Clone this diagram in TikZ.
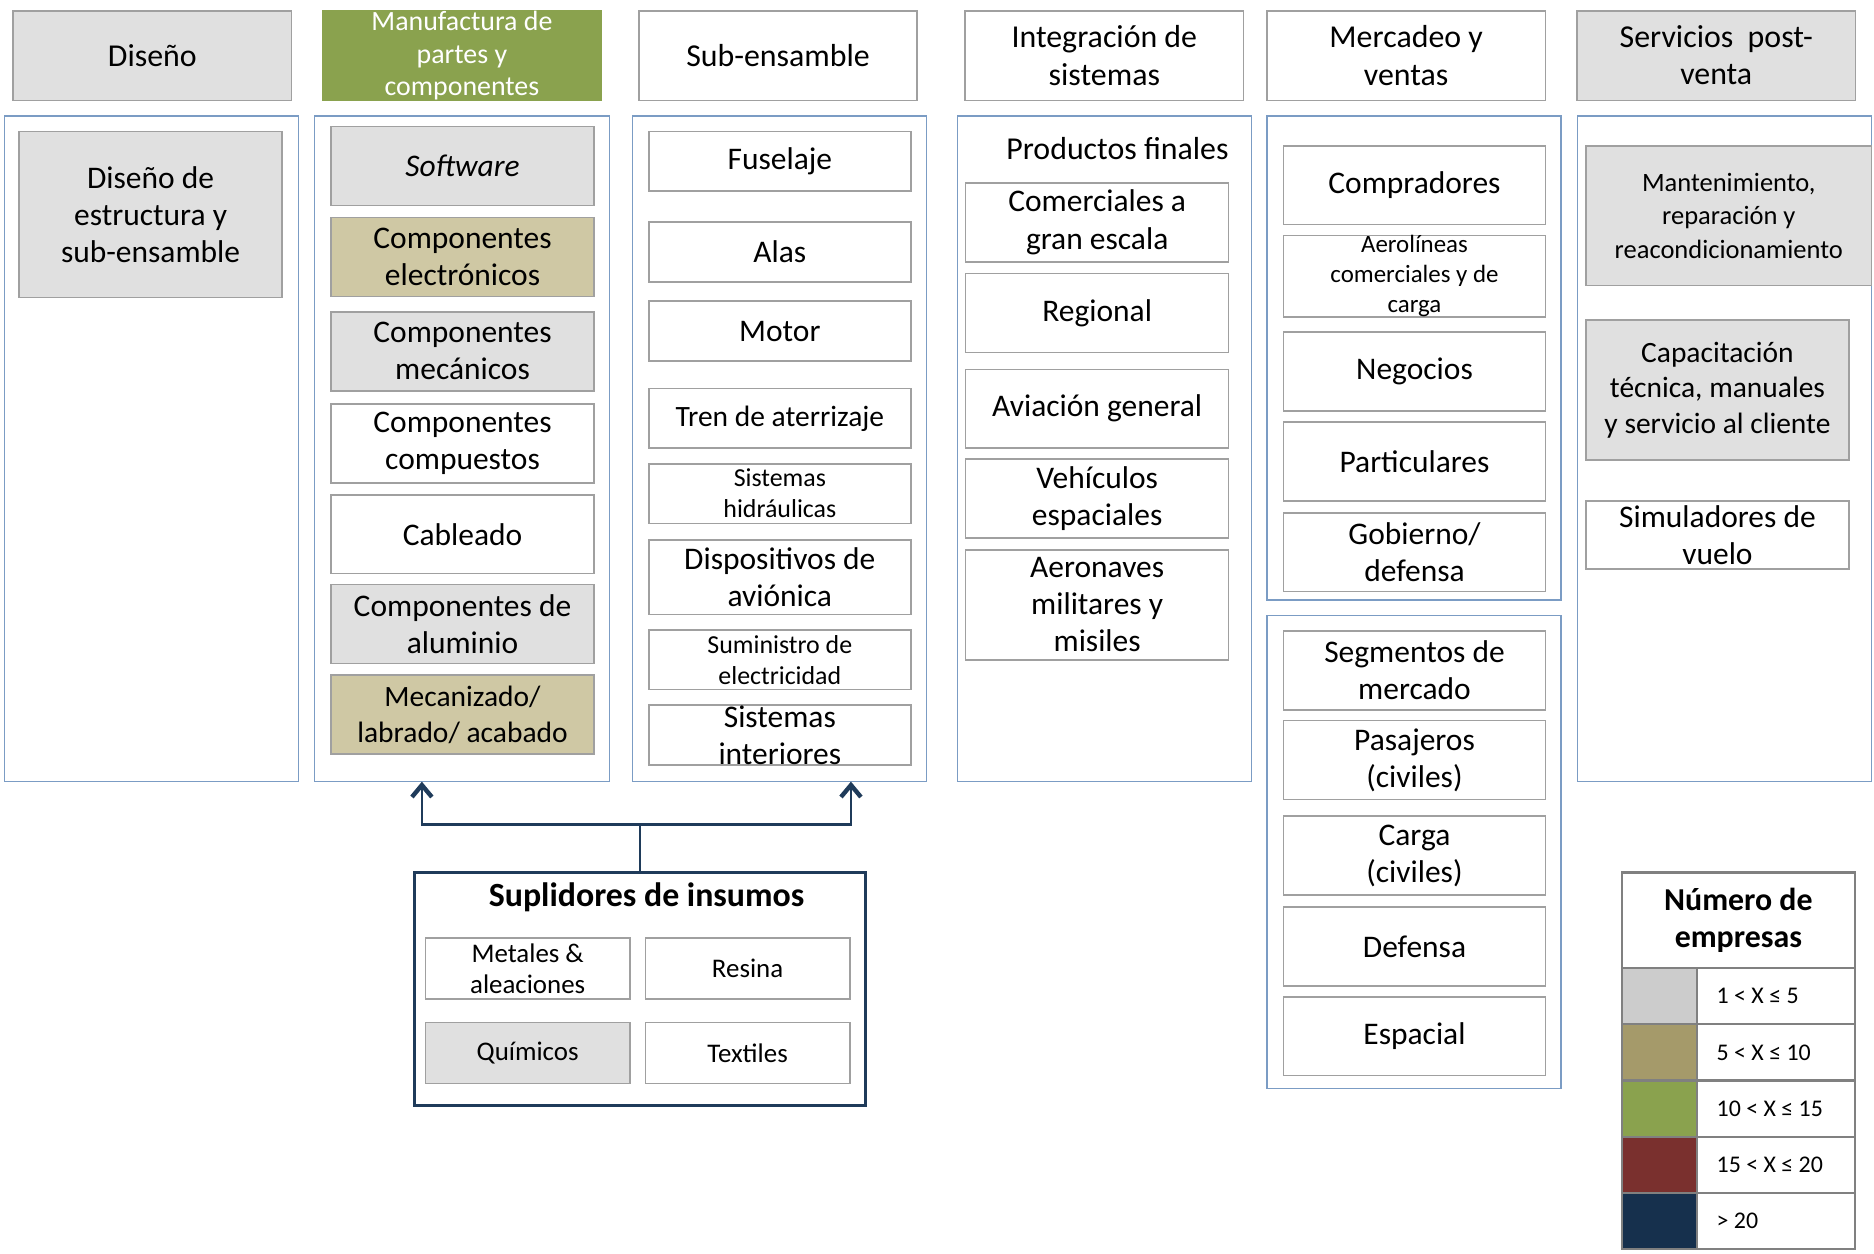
\documentclass[tikz,border=0pt]{standalone}
\usepackage{fontspec}
\setmainfont{Carlito}
\usetikzlibrary{positioning,arrows.meta}

\definecolor{gris}{HTML}{E0E0E0}
\definecolor{arena}{HTML}{CFC8A4}
\definecolor{verde}{HTML}{8AA24E}
\definecolor{ocre}{HTML}{A59A6A}
\definecolor{vino}{HTML}{7A302E}
\definecolor{marino}{HTML}{16304D}
\definecolor{grisley}{HTML}{CCCCCC}
\definecolor{borde}{HTML}{A0A0A0}
\definecolor{azulpanel}{HTML}{7B9CC4}
\definecolor{azulsup}{HTML}{1F3B5A}

\newcommand{\fmain}{\fontsize{15.8}{18.6}\selectfont}
\newcommand{\fmid}{\fontsize{14.8}{18.2}\selectfont}
\newcommand{\fhead}{\fontsize{16}{18.6}\selectfont}
\newcommand{\fsmall}{\fontsize{13}{15.6}\selectfont}
\newcommand{\fleg}{\fontsize{12}{14}\selectfont}

\tikzset{sz/.style 2 args={minimum width=#1*0.6pt,minimum height=#2*0.6pt}}

\begin{document}
\begin{tikzpicture}[x=0.6pt,y=-0.6pt,
  box/.style={draw=borde,line width=0.8pt,fill=white,align=center,inner sep=0pt,font=\fmain},
  panel/.style={draw=azulpanel,line width=0.7pt,inner sep=0pt},
  ley/.style={draw=gray,line width=1.1pt,inner sep=0pt},
  arr/.style={draw=azulsup,line width=1.3pt,-{Straight Barb[length=6pt,width=10pt,line width=2.2pt]}}]

\useasboundingbox (0,0) rectangle (1568,1049);

% draw stage headers
\foreach \cx/\fc/\txt/\nm in {127.5/gris/Diseño/hdis, 651/white/Sub-ensamble/hsub,
  924/white/{Integración de\\sistemas}/hint, 1176.5/white/{Mercadeo y\\ventas}/hmer,
  1436/gris/{Servicios~~post-\\venta}/hser}
{
  \node[box,fill=\fc,sz={233}{75},font=\fhead] (\nm) at (\cx,46.5) {\txt};
}
\node[box,draw=verde,fill=verde,text=white,sz={233}{75},font=\fontsize{14}{16.5}\selectfont] (hman) at (386.5,46.5) {Manufactura de\\partes y\\componentes};

% draw stage panels
\node[panel,sz={246}{557}] (p1) at (127,375.5) {};
\node[panel,sz={247}{557}] (p2) at (386.5,375.5) {};
\node[panel,sz={246}{557}] (p3) at (652,375.5) {};
\node[panel,sz={246}{557}] (p4) at (924,375.5) {};
\node[panel,sz={246}{405}] (p5a) at (1183,299.5) {};
\node[panel,sz={246}{396}] (p5b) at (1183,713) {};
\node[panel,sz={246}{557}] (p6) at (1443,375.5) {};

% design
\node[box,fill=gris,sz={220}{139}] (dis) at (126,179.5) {Diseño de\\estructura y\\sub-ensamble};

% parts and components
\foreach \cy/\fc/\fs/\txt/\nm in {139/gris/\fmain/{\textit{Software}}/sw, 215/arena/\fmain/{Componentes\\electrónicos}/elec,
  294/gris/\fmain/{Componentes\\mecánicos}/mec, 371/white/\fmain/{Componentes\\compuestos}/comp,
  447/white/\fmain/Cableado/cab, 522/gris/\fmain/{Componentes de\\aluminio}/alu,
  598/arena/\fmid/{Mecanizado/\\labrado/ acabado}/meca}
{
  \node[box,fill=\fc,sz={220}{66},font=\fs] (\nm) at (387,\cy) {\txt};
}

% sub-assembly
\foreach \cy/\h/\fs/\txt/\nm in {135/50/\fmain/Fuselaje/fus, 211/50/\fmain/Alas/alas,
  277/50/\fmain/Motor/mot, 350/50/\fmid/Tren de aterrizaje/tren,
  413/50/\fsmall/{Sistemas\\hidráulicas}/hid, 483/62/\fmain/{Dispositivos de\\aviónica}/avi,
  552/50/\fsmall/{Suministro de\\electricidad}/sum, 615/50/\fmain/{Sistemas\\interiores}/inte}
{
  \node[box,sz={219}{\h},font=\fs] (\nm) at (652.5,\cy) {\txt};
}

% system integration
\node[font=\fhead] (prod) at (935,124) {Productos finales};
\foreach \cy/\h/\txt/\nm in {186/66/{Comerciales a\\gran escala}/cge, 262/66/Regional/reg,
  342/66/Aviación general/avg, 417/66/{Vehículos\\espaciales}/veh,
  506/92/{Aeronaves\\militares y\\misiles}/aer}
{
  \node[box,sz={220}{\h}] (\nm) at (918,\cy) {\txt};
}

% marketing and sales
\foreach \cy/\fs/\txt/\nm in {155/\fmain/Compradores/compr,
  231/{\fontsize{12.5}{15}\selectfont}/{Aerolíneas\\comerciales y de\\carga}/aerol,
  311/\fmain/Negocios/neg, 386/\fmain/Particulares/part, 462/\fmain/{Gobierno/\\defensa}/gob,
  561/\fmain/{Segmentos de\\mercado}/seg, 636/\fmain/{Pasajeros\\(civiles)}/pas,
  716/\fmain/{Carga\\(civiles)}/car, 792/\fmain/Defensa/def, 867/\fmain/Espacial/esp}
{
  \node[box,sz={219}{66},font=\fs] (\nm) at (1183.5,\cy) {\txt};
}

% after-sales services
\node[box,fill=gris,sz={239}{117},font=\fontsize{13.3}{16.8}\selectfont] (mant) at (1446.5,180.5) {Mantenimiento,\\reparación y\\reacondicionamiento};
\node[box,fill=gris,sz={220}{117},font=\fontsize{14.8}{17.7}\selectfont] (cap) at (1437,326.5) {Capacitación\\técnica, manuales\\y servicio al cliente};
\node[box,sz={220}{57}] (sim) at (1437,447.5) {Simuladores de\\vuelo};

% input suppliers
\node[draw=azulsup,line width=1.3pt,inner sep=0pt,sz={377}{195}] (sup) at (535.5,827.5) {};
\node[font=\bfseries\fontsize{17}{20}\selectfont] (suptit) at (541,751) {Suplidores de insumos};
\foreach \cx/\cy/\fc/\txt/\nm in {441.5/810.5/white/{Metales \&\\aleaciones}/met, 625.5/810.5/white/Resina/res,
  441.5/881/gris/Químicos/qui, 625.5/881/white/Textiles/tex}
{
  \node[box,fill=\fc,sz={171}{51},font=\fontsize{13.5}{15.6}\selectfont] (\nm) at (\cx,\cy) {\txt};
}

% connect suppliers to manufacturing and sub-assembly
\coordinate (tA) at (353,654);
\coordinate (tB) at (712,654);
\draw[arr] (sup.north) -- ++(0,-39) -| (tA);
\draw[arr] (sup.north) -- ++(0,-39) -| (tB);

% legend
\node[ley,sz={195}{80},align=center,font=\bfseries\fontsize{16}{18.6}\selectfont] (leyt) at (1454.5,770) {Número de\\empresas};
\foreach \i/\fc/\txt in {0/grisley/{1 < X ≤ 5}, 1/ocre/{5 < X ≤ 10}, 2/verde/{10 < X ≤ 15},
  3/vino/{15 < X ≤ 20}, 4/marino/{> 20}}
{
  \node[ley,fill=\fc,sz={63}{47}] (col\i) at (1388.5,833.5+47*\i) {};
  \node[ley,sz={132}{47}] (cel\i) at (1486,833.5+47*\i) {};
  \node[anchor=west,font=\fleg,inner sep=0pt] (txt\i) at (1436,833.5+47*\i) {\txt};
}

\end{tikzpicture}
\end{document}
